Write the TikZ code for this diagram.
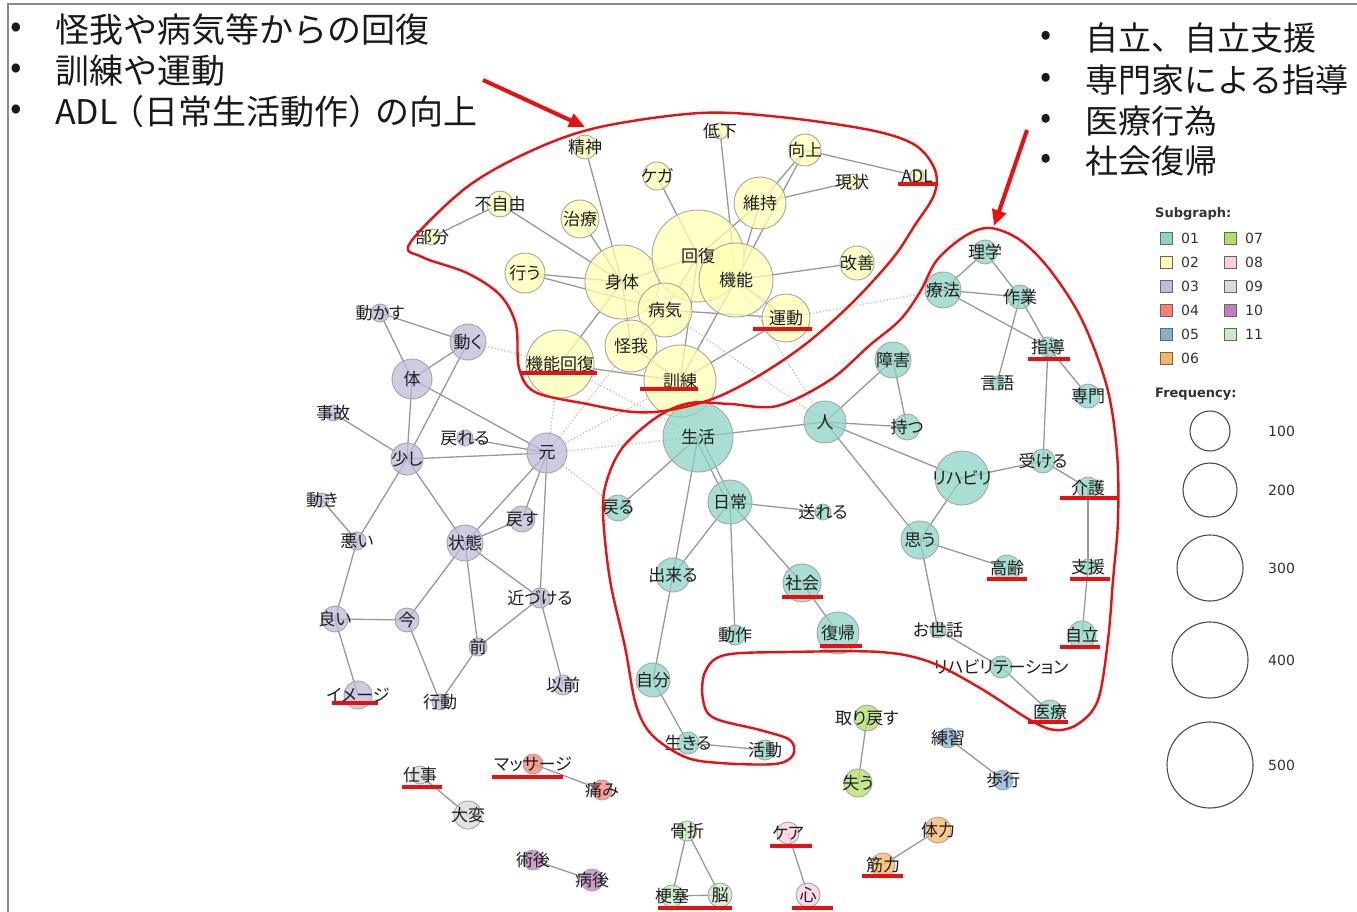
\documentclass[tikz,border=0pt]{standalone}
\usepackage{fontspec}
\newfontfamily\jp[RawFeature=+palt]{Noto Sans CJK JP}
\newfontfamily\jpf{Noto Sans CJK JP}
\newfontfamily\vd{DejaVu Sans}
\definecolor{s01}{HTML}{8DD3C7}
\definecolor{s02}{HTML}{FFFFB3}
\definecolor{s03}{HTML}{BEBADA}
\definecolor{s04}{HTML}{FB8072}
\definecolor{s05}{HTML}{80B1D3}
\definecolor{s06}{HTML}{FDB462}
\definecolor{s07}{HTML}{B3DE69}
\definecolor{s08}{HTML}{FCCDE5}
\definecolor{s09}{HTML}{D9D9D9}
\definecolor{s10}{HTML}{BC80BD}
\definecolor{s11}{HTML}{CCEBC5}
\definecolor{rd}{RGB}{232,16,16}
\pgfdeclarelayer{bg}\pgfdeclarelayer{fg}
\pgfsetlayers{bg,main,fg}
\usetikzlibrary{arrows.meta}
\tikzset{
 nd/.style={circle,draw=black!35,line width=0.9pt,fill opacity=0.75,inner sep=0pt},
 lb/.style={font=\jp\fontsize{17}{17}\selectfont,text=black!88,inner sep=0pt},
 ed/.style={draw=black!40,line width=1.3pt},
 dt/.style={draw=black!22,line width=1.4pt,dotted},
 loop/.style={draw=rd,line width=2.4pt},
 ul/.style={draw=rd,line width=4.5pt},
 arr/.style={draw=rd,line width=4pt,-{Triangle[length=16pt,width=14pt]}},
 hd/.style={font=\jpf\fontsize{34}{34}\selectfont,text=black!90,inner sep=0pt,anchor=west},
 hdr/.style={font=\jpf\fontsize{33}{33}\selectfont,text=black!90,inner sep=0pt,anchor=west},
 sq/.style={draw=black!60,line width=0.8pt,minimum size=12pt,inner sep=0pt},
 lt/.style={font=\vd\fontsize{14}{14}\selectfont,text=black!80,inner sep=0pt,anchor=west},
 fc/.style={circle,draw=black!70,line width=1.1pt,inner sep=0pt}
}
\newcommand\wn[6]{%
 \node[nd,fill=#5,minimum size=#4pt] (#1) at (#2,#3) {};%
 \begin{pgfonlayer}{fg}\node[lb] (#1-t) at (#2,#3) {#6};\end{pgfonlayer}}
\begin{document}
\begin{tikzpicture}[x=1pt,y=-1pt]
\useasboundingbox (0,0) rectangle (1357,912);
\begin{pgfonlayer}{bg}
\fill[white] (0,0) rectangle (1357,912);
\end{pgfonlayer}
\draw[black!45,line width=1.2pt] (8,912) -- (8,4) -- (1357,4);
% headings
\node[hd] (b1) at (10,30) {•}; \node[hd] (h1) at (55,30) {怪我や病気等からの回復};
\node[hd] (b2) at (10,71) {•}; \node[hd] (h2) at (55,71) {訓練や運動};
\node[hd] (b3) at (10,112) {•}; \node[hd] (h3) at (55,112) {ADL\kern-7pt（日常生活動作）\kern-7pt の向上};
\node[hdr] (b4) at (1040,38) {•}; \node[hdr] (h4) at (1085,38) {自立、自立支援};
\node[hdr] (b5) at (1040,80) {•}; \node[hdr] (h5) at (1085,80) {専門家による指導};
\node[hdr] (b6) at (1040,121) {•}; \node[hdr] (h6) at (1085,121) {医療行為};
\node[hdr] (b7) at (1040,161) {•}; \node[hdr] (h7) at (1085,161) {社会復帰};
% ---------- subgraph 02 (yellow)
\wn{seishin}{585}{147}{24}{s02}{精神}
\wn{kega}{657}{176}{28}{s02}{ケガ}
\wn{teika}{720}{131}{16}{s02}{低下}
\wn{koujou}{805}{150}{32}{s02}{向上}
\wn{adl}{917}{176}{14}{s02}{ADL}
\wn{genjou}{852}{182}{16}{s02}{現状}
\wn{iji}{760}{203}{52}{s02}{維持}
\wn{fujiyuu}{500}{204}{26}{s02}{不自由}
\wn{bubun}{432}{237}{16}{s02}{部分}
\wn{chiryou}{580}{219}{38}{s02}{治療}
\wn{okonau}{525}{273}{40}{s02}{行う}
\wn{shintai}{622}{282}{74}{s02}{身体}
\wn{kaifuku}{698}{256}{92}{s02}{回復}
\wn{kinou}{736}{280}{74}{s02}{機能}
\wn{kaizen}{857}{263}{34}{s02}{改善}
\wn{byouki}{665}{310}{54}{s02}{病気}
\wn{undou}{786}{318}{48}{s02}{運動}
\wn{kegaK}{631}{346}{52}{s02}{怪我}
\wn{kkaifuku}{560}{364}{68}{s02}{機能回復}
\wn{kunren}{680}{381}{72}{s02}{訓練}
% ---------- subgraph 03 (purple)
\wn{ugokasu}{380}{313}{18}{s03}{動かす}
\wn{ugoku}{468}{342}{36}{s03}{動く}
\wn{karada}{412}{379}{40}{s03}{体}
\wn{jiko}{333}{413}{16}{s03}{事故}
\wn{modoreru}{465}{438}{16}{s03}{戻れる}
\wn{moto}{547}{453}{40}{s03}{元}
\wn{sukoshi}{407}{459}{32}{s03}{少し}
\wn{ugoki}{322}{500}{14}{s03}{動き}
\wn{warui}{357}{541}{18}{s03}{悪い}
\wn{modosu}{522}{519}{26}{s03}{戻す}
\wn{joutai}{465}{543}{36}{s03}{状態}
\wn{chikazukeru}{540}{598}{20}{s03}{近づける}
\wn{yoi}{335}{619}{26}{s03}{良い}
\wn{ima}{407}{620}{24}{s03}{今}
\wn{mae}{478}{647}{18}{s03}{前}
\wn{izen}{563}{685}{20}{s03}{以前}
\wn{image}{358}{695}{28}{s03}{イメージ}
\wn{koudou}{440}{702}{16}{s03}{行動}
% ---------- subgraph 01 (teal)
\wn{rigaku}{985}{252}{24}{s01}{理学}
\wn{ryouhou}{943}{290}{36}{s01}{療法}
\wn{sagyou}{1020}{297}{24}{s01}{作業}
\wn{shidou}{1048}{347}{20}{s01}{指導}
\wn{shougai}{893}{360}{36}{s01}{障害}
\wn{gengo}{997}{383}{14}{s01}{言語}
\wn{senmon}{1088}{396}{24}{s01}{専門}
\wn{motsu}{907}{427}{26}{s01}{持つ}
\wn{hito}{825}{422}{42}{s01}{人}
\wn{seikatsu}{698}{437}{70}{s01}{生活}
\wn{ukeru}{1043}{461}{24}{s01}{受ける}
\wn{rihabiri}{962}{478}{54}{s01}{リハビリ}
\wn{kaigo}{1088}{488}{22}{s01}{介護}
\wn{modoru}{618}{508}{26}{s01}{戻る}
\wn{nichijou}{730}{502}{44}{s01}{日常}
\wn{okureru}{823}{512}{16}{s01}{送れる}
\wn{omou}{920}{540}{38}{s01}{思う}
\wn{kourei}{1007}{568}{26}{s01}{高齢}
\wn{shien}{1088}{567}{16}{s01}{支援}
\wn{dekiru}{673}{575}{34}{s01}{出来る}
\wn{shakai}{802}{583}{38}{s01}{社会}
\wn{osewa}{938}{630}{16}{s01}{お世話}
\wn{jiritsu}{1082}{635}{28}{s01}{自立}
\wn{dousa}{735}{635}{20}{s01}{動作}
\wn{fukki}{838}{633}{42}{s01}{復帰}
\wn{rihat}{1001}{667}{22}{s01}{リハビリテーション}
\wn{iryou}{1050}{712}{24}{s01}{医療}
\wn{jibun}{653}{680}{34}{s01}{自分}
\wn{ikiru}{688}{743}{22}{s01}{生きる}
\wn{katsudou}{765}{750}{20}{s01}{活動}
% ---------- small subgraphs
\wn{torimodosu}{867}{718}{26}{s07}{取り戻す}
\wn{ushinau}{858}{783}{28}{s07}{失う}
\wn{renshuu}{948}{738}{20}{s05}{練習}
\wn{hokou}{1003}{780}{20}{s05}{歩行}
\wn{shigoto}{420}{775}{18}{s09}{仕事}
\wn{taihen}{468}{815}{28}{s09}{大変}
\wn{massage}{533}{764}{20}{s04}{マッサージ}
\wn{itami}{602}{790}{20}{s04}{痛み}
\wn{jutsugo}{533}{860}{20}{s10}{術後}
\wn{byougo}{592}{880}{22}{s10}{病後}
\wn{kossetsu}{687}{831}{20}{s11}{骨折}
\wn{kousoku}{672}{896}{22}{s11}{梗塞}
\wn{nou}{720}{895}{24}{s11}{脳}
\wn{care}{788}{833}{22}{s08}{ケア}
\wn{kokoro}{808}{895}{24}{s08}{心}
\wn{tairyoku}{938}{830}{26}{s06}{体力}
\wn{kinryoku}{883}{865}{24}{s06}{筋力}
% ---------- edges
\begin{pgfonlayer}{bg}
\foreach \a/\b in {seishin/shintai,kega/kaifuku,teika/kinou,koujou/iji,koujou/kinou,koujou/adl,
 iji/genjou,iji/kaifuku,iji/kinou,fujiyuu/bubun,fujiyuu/shintai,chiryou/shintai,okonau/shintai,
 okonau/byouki,shintai/kaifuku,shintai/byouki,shintai/kegaK,shintai/kkaifuku,kaifuku/kinou,
 kaifuku/byouki,kaifuku/kunren,kinou/kaizen,kinou/undou,kinou/kunren,byouki/kegaK,byouki/undou,
 kegaK/kunren,kkaifuku/kunren,kunren/undou,
 ugokasu/ugoku,ugokasu/karada,ugoku/karada,ugoku/sukoshi,karada/sukoshi,karada/moto,jiko/sukoshi,
 modoreru/moto,sukoshi/moto,sukoshi/warui,sukoshi/joutai,moto/joutai,moto/modosu,moto/chikazukeru,
 ugoki/warui,warui/yoi,modosu/joutai,joutai/ima,joutai/mae,joutai/chikazukeru,yoi/ima,yoi/image,
 ima/koudou,mae/koudou,mae/chikazukeru,chikazukeru/izen,
 rigaku/ryouhou,rigaku/sagyou,ryouhou/sagyou,ryouhou/shidou,sagyou/shidou,sagyou/gengo,
 shidou/senmon,shidou/ukeru,shougai/motsu,hito/shougai,hito/motsu,hito/rihabiri,hito/omou,
 hito/seikatsu,ukeru/rihabiri,ukeru/kaigo,rihabiri/omou,kaigo/shien,shien/jiritsu,omou/kourei,
 omou/osewa,osewa/rihat,rihat/iryou,seikatsu/modoru,seikatsu/dekiru,nichijou/okureru,
 nichijou/dekiru,nichijou/dousa,nichijou/shakai,shakai/fukki,dekiru/jibun,jibun/ikiru,
 ikiru/katsudou,
 torimodosu/ushinau,renshuu/hokou,shigoto/taihen,massage/itami,jutsugo/byougo,kossetsu/kousoku,
 kossetsu/nou,kousoku/nou,care/kokoro,tairyoku/kinryoku}
 {\draw[ed] (\a.center) -- (\b.center);}
\draw[ed] ([xshift=-3pt]seikatsu.center) -- ([xshift=-3pt]nichijou.center);
\draw[ed] ([xshift=3pt]seikatsu.center) -- ([xshift=3pt]nichijou.center);
\foreach \a/\b in {ugoku/kkaifuku,moto/kkaifuku,moto/kegaK,moto/kunren,moto/seikatsu,moto/modoru,
 seikatsu/kkaifuku,kinou/hito,byouki/hito,undou/ryouhou}
 {\draw[dt] (\a.center) -- (\b.center);}
\end{pgfonlayer}
% ---------- red annotations
\begin{pgfonlayer}{fg}
\draw[loop] plot[smooth cycle,tension=0.55] coordinates {(410,243) (467,187) (533,150) (600,127)
 (700,113) (780,117) (870,130) (915,145) (935,170) (934,195) (915,225) (893,258) (853,302)
 (807,343) (760,375) (715,398) (670,410) (633,412) (587,404) (535,392) (519,368) (516,325)
 (500,295) (467,273) (422,257)};
\draw[loop] plot[smooth cycle,tension=0.55] coordinates {(990,228) (1020,240) (1050,270)
 (1082,320) (1107,387) (1117,453) (1118,520) (1113,580) (1108,640) (1098,700) (1078,724)
 (1055,730) (1030,720) (980,688) (930,662) (880,652) (790,652) (725,655) (705,672) (703,700)
 (714,718) (760,730) (790,740) (793,755) (775,764) (720,763) (685,757) (652,735) (636,705)
 (625,647) (610,580) (603,513) (607,480) (623,447) (657,417) (690,403) (730,404) (777,406)
 (830,380) (870,345) (900,320) (920,292) (937,260) (965,236)};
\coordinate (a1s) at (483,80); \coordinate (a1e) at (585,127);
\coordinate (a2s) at (1027,130); \coordinate (a2e) at (994,226);
\draw[arr] (a1s) -- (a1e);
\draw[arr] (a2s) -- (a2e);
\foreach \xa/\xb/\yy in {521/597/373,640/698/389,753/812/329,898/938/184,1028/1070/359,
 1060/1118/498,987/1027/579,1070/1110/579,1060/1100/647,1028/1068/722,782/823/597,820/862/646,
 332/378/703,402/442/787,492/563/777,658/732/908,770/812/846,792/833/908,862/903/876}
 {\draw[ul] (\xa,\yy) -- (\xb,\yy);}
\end{pgfonlayer}
% ---------- legend
\node[font=\vd\bfseries\fontsize{13}{13}\selectfont,text=black!80,inner sep=0pt,anchor=west] (lg) at (1155,214) {Subgraph:};
\foreach \n/\c/\xx/\yy in {01/s01/1166/238,02/s02/1166/262,03/s03/1166/286,04/s04/1166/310,
 05/s05/1166/334,06/s06/1166/358,07/s07/1230/238,08/s08/1230/262,09/s09/1230/286,
 10/s10/1230/310,11/s11/1230/334}
 {\node[sq,fill=\c] (q\n) at (\xx,\yy) {}; \node[lt] (q\n t) at (\xx+15,\yy) {\n};}
\node[font=\vd\bfseries\fontsize{13}{13}\selectfont,text=black!80,inner sep=0pt,anchor=west] (fq) at (1155,394) {Frequency:};
\foreach \v/\d/\yy in {100/40/431,200/54/490,300/66/568,400/76/660,500/86/765}
 {\node[fc,minimum size=\d pt] (f\v) at (1210,\yy) {}; \node[lt] (f\v t) at (1268,\yy) {\v};}
\end{tikzpicture}
\end{document}
